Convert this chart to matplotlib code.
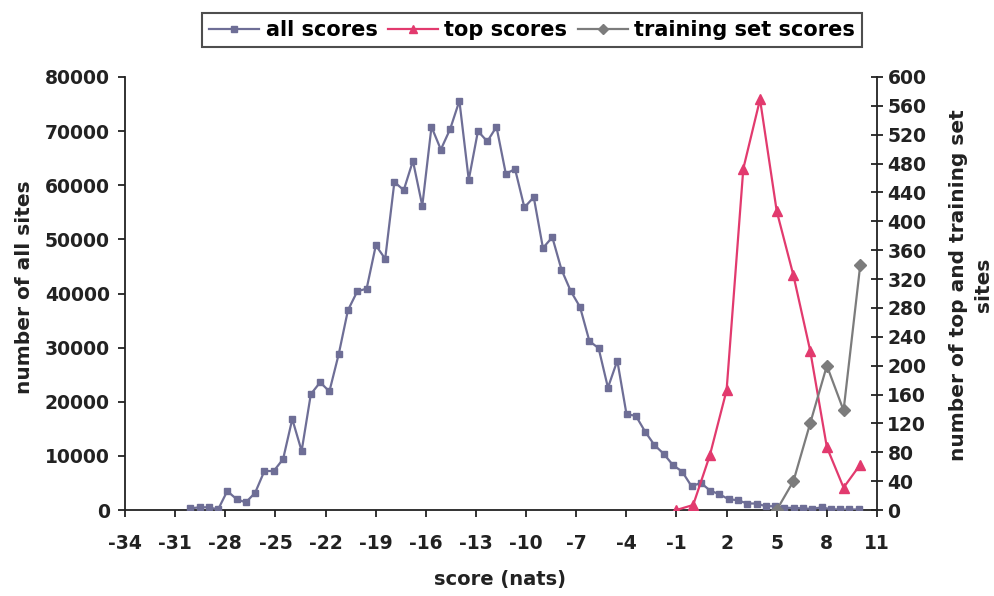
import matplotlib
matplotlib.use("Agg")
import matplotlib.pyplot as plt

# ---- data ----
all_x = [-30.10, -29.54, -28.99, -28.43, -27.88, -27.32, -26.77, -26.21, -25.66, -25.10,
         -24.54, -23.99, -23.43, -22.88, -22.32, -21.77, -21.21, -20.66, -20.10, -19.54,
         -18.99, -18.43, -17.88, -17.32, -16.77, -16.21, -15.66, -15.10, -14.54, -13.99,
         -13.43, -12.88, -12.32, -11.77, -11.21, -10.66, -10.10, -9.54, -8.99, -8.43,
         -7.88, -7.32, -6.77, -6.21, -5.66, -5.10, -4.54, -3.99, -3.43, -2.88,
         -2.32, -1.77, -1.21, -0.66, -0.10, 0.46, 1.01, 1.57, 2.12, 2.68,
         3.23, 3.79, 4.34, 4.90, 5.46, 6.01, 6.57, 7.12, 7.68, 8.23,
         8.79, 9.34, 9.90]
all_y = [300, 500, 500, 100, 3500, 2000, 1400, 3200, 7200, 7200,
         9400, 16800, 10900, 21400, 23600, 21900, 28800, 36900, 40400, 40900,
         48900, 46400, 60600, 59100, 64500, 56200, 70800, 66600, 70400, 75600,
         61000, 70000, 68100, 70800, 62100, 63000, 55900, 57800, 48400, 50400,
         44400, 40400, 37500, 31200, 29900, 22600, 27600, 17700, 17400, 14500,
         12000, 10400, 8300, 7100, 4400, 5000, 3600, 2900, 2000, 1800,
         1200, 1200, 700, 700, 400, 400, 300, 200, 500, 150,
         100, 100, 100]

top_x = [-1, 0, 1, 2, 3, 4, 5, 6, 7, 8, 9, 10]
top_y = [0, 7, 76, 166, 473, 569, 414, 325, 221, 87, 31, 63]

train_x = [5, 6, 7, 8, 9, 10]
train_y = [0, 40, 120, 200, 138, 340]

x_ticks = [-34, -31, -28, -25, -22, -19, -16, -13, -10, -7, -4, -1, 2, 5, 8, 11]
left_ticks = [0, 10000, 20000, 30000, 40000, 50000, 60000, 70000, 80000]
right_ticks = list(range(0, 601, 40))

labels = ["all scores", "top scores", "training set scores"]
xlabel = "score (nats)"
ylabel_left = "number of all sites"
ylabel_right = "number of top and training set\nsites"

# ---- style ----
c_all = "#6e6e96"
c_top = "#e23a6e"
c_train = "#7c7c7c"
FONT = "DejaVu Sans"
plt.rcParams["font.family"] = [FONT]
plt.rcParams["font.weight"] = "bold"

W, H = 994, 596
fig = plt.figure(figsize=(W / 100, H / 100), dpi=100)
L, R, B, T = 125, 877, 510, 77
ax = fig.add_axes([L / W, 1 - B / H, (R - L) / W, (B - T) / H])
ax2 = ax.twinx()

l1, = ax.plot(all_x, all_y, color=c_all, lw=1.6, marker="s", ms=5,
              mec=c_all, mfc=c_all, label=labels[0], zorder=3)
l2, = ax2.plot(top_x, top_y, color=c_top, lw=1.6, marker="^", ms=6.5,
               mec=c_top, mfc=c_top, label=labels[1], zorder=3)
l3, = ax2.plot(train_x, train_y, color=c_train, lw=1.6, marker="D", ms=6.5,
               mec=c_train, mfc=c_train, label=labels[2], zorder=3)

ax.set_xlim(-34, 11)
ax.set_ylim(0, 80000)
ax2.set_ylim(0, 600)
ax.set_xticks(x_ticks)
ax.set_xticklabels([str(v) for v in x_ticks])
ax.set_yticks(left_ticks)
ax.set_yticklabels([str(v) for v in left_ticks])
ax2.set_yticks(right_ticks)
ax2.set_yticklabels([str(v) for v in right_ticks])

for a in (ax, ax2):
    a.spines["top"].set_visible(False)
    for s in a.spines.values():
        s.set_linewidth(1.3)
        s.set_color("#222222")
    a.patch.set_visible(False)
ax2.spines["left"].set_visible(False)
ax2.spines["bottom"].set_visible(False)
ax.spines["right"].set_visible(False)

ax.tick_params(axis="x", direction="out", length=5, width=1.3, pad=12,
               labelsize=13.5, colors="#222222")
ax.tick_params(axis="y", direction="out", length=5, width=1.3, pad=6,
               labelsize=13.5, colors="#222222")
ax2.tick_params(axis="y", direction="inout", length=9, width=1.3, pad=3,
                labelsize=13.5, colors="#222222")
for lab in ax.get_xticklabels() + ax.get_yticklabels() + ax2.get_yticklabels():
    lab.set_fontweight("bold")

fig.text(500 / W, 1 - 580 / H, xlabel, ha="center", va="center",
         fontsize=14, fontweight="bold", color="#222222")
fig.text(25 / W, 1 - 287 / H, ylabel_left, ha="center", va="center",
         rotation=90, fontsize=14.5, fontweight="bold", color="#222222")
fig.text(971 / W, 1 - 285 / H, ylabel_right, ha="center", va="center",
         rotation=90, fontsize=14.5, fontweight="bold", color="#222222",
         multialignment="center", linespacing=1.35)

leg = fig.legend(handles=[l1, l2, l3], labels=labels, loc="center",
                 bbox_to_anchor=(532 / W, 1 - 30 / H), ncol=3,
                 frameon=True, fancybox=False, edgecolor="#222222",
                 prop={"family": FONT, "weight": "bold", "size": 15},
                 handlelength=2.4, handletextpad=0.3, columnspacing=0.5,
                 borderpad=0.35, markerscale=0.8)
leg.get_frame().set_linewidth(1.5)

fig.savefig("out.png", dpi=100)
